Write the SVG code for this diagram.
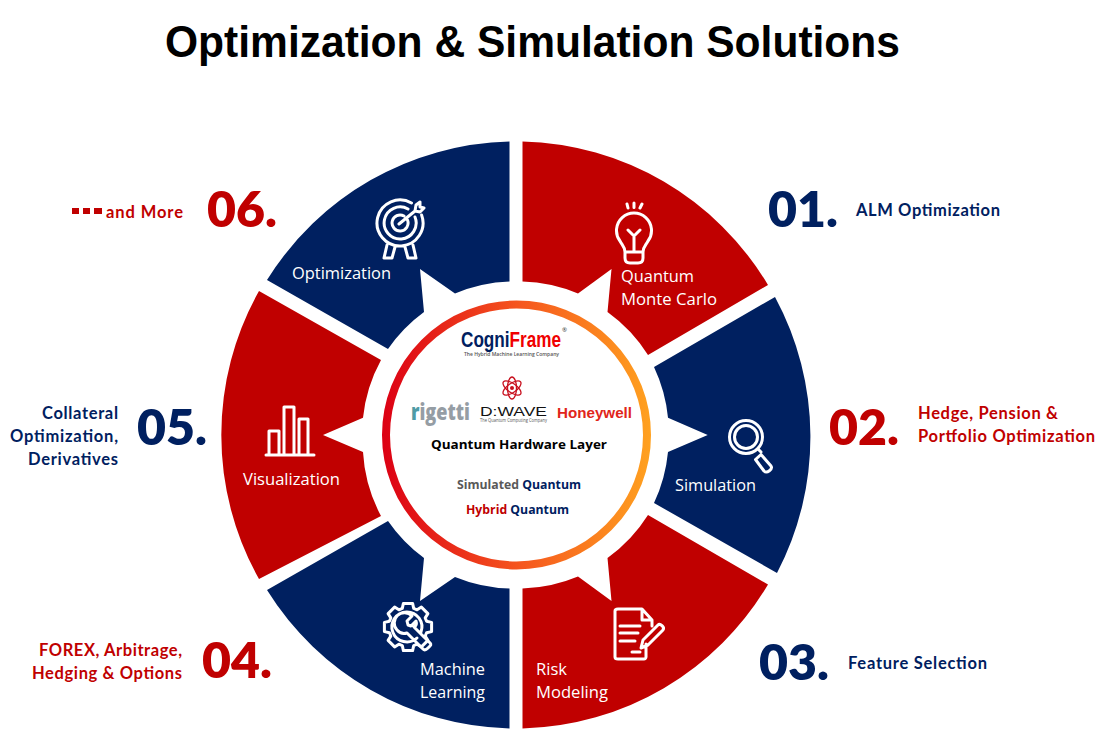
<svg xmlns="http://www.w3.org/2000/svg" width="1104" height="743" viewBox="0 0 1104 743">
<style>
text{font-family:"Open Sans","Noto Sans","Liberation Sans",sans-serif}
.navy{fill:#002060}.red{fill:#c00000}
.lab{fill:#fff;font-size:17px}
.num{font-size:50px;font-weight:800;font-family:"Lato","Open Sans",sans-serif}
.side{font-size:16.500px;font-weight:700;font-family:"Lato","Open Sans",sans-serif}
.ic{fill:none;stroke:#fff;stroke-width:3;stroke-linejoin:round;stroke-linecap:round}
.mid{font-size:13px;font-weight:700}
</style>
<defs><linearGradient id="ring" gradientUnits="userSpaceOnUse" x1="382" y1="435" x2="651" y2="435"><stop offset="0" stop-color="#dc0014"/><stop offset=".5" stop-color="#f5541e"/><stop offset="1" stop-color="#ffa11f"/></linearGradient></defs>
<rect width="1104" height="743" fill="#fff"/>
<text id="title" x="165" y="57" font-size="44" font-weight="700" fill="#000" textLength="735" lengthAdjust="spacingAndGlyphs" style="font-family:'Liberation Sans',sans-serif">Optimization &amp; Simulation Solutions</text>

<g id="node-01">
<path class="red" d="M522.5 141.500A294 294 0 0 1 768 285L648 355A154 154 0 0 0 607.500 312L611.500 269L578 293.500A154 154 0 0 0 522.500 281.500Z"/>
<g class="ic"><path d="M625 258V252C625 247 622 245 620 241A17.500 17.500 0 1 1 648 241C646 245 643 247 643 252V258C643 262 641 263 638 263H630C627 263 625 262 625 258ZM625 252H643M634 252V236M628 230L634 236L640 230M627 204L628 208M634 203V207.500M642 204L640 208"/></g>
<text class="lab" x="621" y="282" textLength="73" lengthAdjust="spacingAndGlyphs">Quantum</text>
<text class="lab" x="621" y="305" textLength="96" lengthAdjust="spacingAndGlyphs">Monte Carlo</text>
<text class="num navy" x="768" y="227" textLength="70">01.</text>
<text class="side navy" x="856" y="216" textLength="144">ALM Optimization</text>
</g>

<g id="node-02">
<path class="navy" d="M775 297A294 294 0 0 1 777 573L654 503A154 154 0 0 0 668 452L707.700 435L668 417.700A154 154 0 0 0 654 367Z"/>
<g class="ic"><circle cx="746" cy="437" r="16.500"/><circle cx="746" cy="437" r="11.500"/><path d="M758 449L761 452M755.500 459.500L761 454.500L771 466C773 469 767 474 764 471Z"/></g>
<text class="lab" x="675" y="491" textLength="81" lengthAdjust="spacingAndGlyphs">Simulation</text>
<text class="num red" x="829" y="445" textLength="70">02.</text>
<text class="side red" x="918" y="419" textLength="140">Hedge, Pension &amp;</text>
<text class="side red" x="918" y="442" textLength="177">Portfolio Optimization</text>
</g>

<g id="node-03">
<path class="red" d="M522.500 728.500A294 294 0 0 0 768 584.500L648 515A154 154 0 0 1 607.500 558L611.500 601L578 576.500A154 154 0 0 1 522.500 588.500Z"/>
<g class="ic"><path d="M646 644V657C646 658 645 659 644 659H618C616 659 615 658 615 657V611C615 610 616 609 618 609H642L652 620V626M642 609V620H652M620 626H640M620 633H638M620 641H635M632 652H640M643 640L658 625C660 623 665 627 663 630L648 645L641 648Z"/></g>
<text class="lab" x="536" y="675" textLength="31" lengthAdjust="spacingAndGlyphs">Risk</text>
<text class="lab" x="536" y="698" textLength="72" lengthAdjust="spacingAndGlyphs">Modeling</text>
<text class="num navy" x="759" y="680" textLength="70">03.</text>
<text class="side navy" x="848" y="669" textLength="139">Feature Selection</text>
</g>

<g id="node-04">
<path class="navy" d="M509.500 728.500A294 294 0 0 1 267 590L388 521A154 154 0 0 0 424 558L420 601L455 577A154 154 0 0 0 509.500 588.500Z"/>
<g class="ic" transform="translate(408 627)"><polygon points="-5.700,-18.600 -4.600,-23.600 4.600,-23.600 5.700,-18.600 9.100,-17.200 13.400,-19.900 19.900,-13.400 17.200,-9.100 18.600,-5.700 23.600,-4.600 23.600,4.600 18.600,5.700 17.200,9.100 19.900,13.400 13.400,19.900 9.100,17.200 5.700,18.600 4.600,23.600 -4.600,23.600 -5.700,18.600 -9.100,17.200 -13.400,19.900 -19.900,13.400 -17.200,9.100 -18.600,5.700 -23.600,4.600 -23.600,-4.600 -18.600,-5.700 -17.200,-9.100 -19.900,-13.400 -13.400,-19.900 -9.100,-17.200"/><path d="M9 11A15 15 0 1 1 13 5M4 -11L-1 -6L0 -2L3 -1L8 -6C9 -3 8 -1 6 0L21 15Q24 17 22 19L20 21Q17 24 15 22L-1 6A9.500 9.500 0 0 1 -11 3A9.500 9.500 0 0 1 4 -11Z"/></g>
<text class="lab" x="420" y="675" textLength="65" lengthAdjust="spacingAndGlyphs">Machine</text>
<text class="lab" x="420" y="698" textLength="65" lengthAdjust="spacingAndGlyphs">Learning</text>
<text class="num red" x="202" y="678" textLength="70">04.</text>
<text class="side red" x="39" y="656" textLength="143">FOREX, Arbitrage,</text>
<text class="side red" x="32" y="679" textLength="150">Hedging &amp; Options</text>
</g>

<g id="node-05">
<path class="red" d="M259 291A294 294 0 0 0 259 579L381 516A154 154 0 0 1 363 452L323 435L363 417.700A154 154 0 0 1 381 360Z"/>
<g class="ic"><path d="M266 455H314M269 454V431H279V454M284 454V407H294V454M299 454V419H308V454"/></g>
<text class="lab" x="243" y="485" textLength="97" lengthAdjust="spacingAndGlyphs">Visualization</text>
<text class="num navy" x="137" y="445" textLength="70">05.</text>
<text class="side navy" x="42" y="419" textLength="76">Collateral</text>
<text class="side navy" x="10" y="442" textLength="108">Optimization,</text>
<text class="side navy" x="28" y="465" textLength="90">Derivatives</text>
</g>

<g id="node-06">
<path class="navy" d="M509.500 141.500A294 294 0 0 0 267 280L388 349A154 154 0 0 1 424 312L420 269L455 293.500A154 154 0 0 1 509.500 281.500Z"/>
<g class="ic"><path d="M411.500 203A23 23 0 1 0 421.600 215M408 209A16 16 0 1 0 415 217M404 216A8 8 0 1 0 407.500 220M399 224L415 211L416 205L420 202L420 207L424 208L420 212L415 211M387 245L384 258H392L395 247M413 245L416 258H408L405 247"/></g>
<text class="lab" x="292" y="279" textLength="99" lengthAdjust="spacingAndGlyphs">Optimization</text>
<text class="num red" x="207" y="227" textLength="70">06.</text>
<rect class="red" x="72" y="208" width="7" height="6"/><rect class="red" x="83" y="208" width="7" height="6"/><rect class="red" x="94" y="208" width="8" height="6"/>
<text class="side red" x="106" y="218" textLength="77">and More</text>
</g>

<g id="hub">
<circle cx="516.500" cy="435" r="130.500" fill="none" stroke="url(#ring)" stroke-width="8"/>
<text x="461" y="347" font-size="22" font-weight="700" textLength="100" lengthAdjust="spacingAndGlyphs" style="font-family:'Liberation Sans',sans-serif"><tspan fill="#002060">Cogni</tspan><tspan fill="#f00000">Frame</tspan></text>
<text x="562" y="332" font-size="6" fill="#333">®</text>
<text x="464" y="356" font-size="6" font-weight="600" fill="#555" textLength="95" lengthAdjust="spacingAndGlyphs">The Hybrid Machine Learning Company</text>
<g fill="none" stroke="#c8101e" stroke-width="1.300"><ellipse cx="512" cy="388" rx="10.500" ry="4.500" transform="rotate(35 512 388)"/><ellipse cx="512" cy="388" rx="10.500" ry="4.500" transform="rotate(-35 512 388)"/><ellipse cx="512" cy="388" rx="11" ry="4.500" transform="rotate(90 512 388)"/></g><circle cx="512" cy="388" r="2" fill="#c8101e"/>
<text x="411" y="420" font-size="22" font-weight="800" fill="#959da4" textLength="59" lengthAdjust="spacingAndGlyphs"><tspan fill="#4f9ca6">r</tspan>igetti</text>
<text x="480" y="416" font-size="13" fill="#111" textLength="67" lengthAdjust="spacingAndGlyphs" style="font-family:'Liberation Sans',sans-serif">D:WAVE</text>
<text x="480" y="422" font-size="4.500" fill="#555" textLength="67" lengthAdjust="spacingAndGlyphs">The Quantum Computing Company</text>
<text x="557" y="418" font-size="14" font-weight="700" fill="#e1251b" textLength="75" lengthAdjust="spacingAndGlyphs" style="font-family:'Liberation Sans',sans-serif">Honeywell</text>
<text class="mid" x="431" y="449" fill="#000" textLength="176" lengthAdjust="spacingAndGlyphs">Quantum Hardware Layer</text>
<text class="mid" x="457" y="489" textLength="124" lengthAdjust="spacingAndGlyphs"><tspan fill="#595959">Simulated</tspan><tspan fill="#002060"> Quantum</tspan></text>
<text class="mid" x="466" y="514" textLength="103" lengthAdjust="spacingAndGlyphs"><tspan fill="#c00000">Hybrid</tspan><tspan fill="#002060"> Quantum</tspan></text>
</g>
</svg>
